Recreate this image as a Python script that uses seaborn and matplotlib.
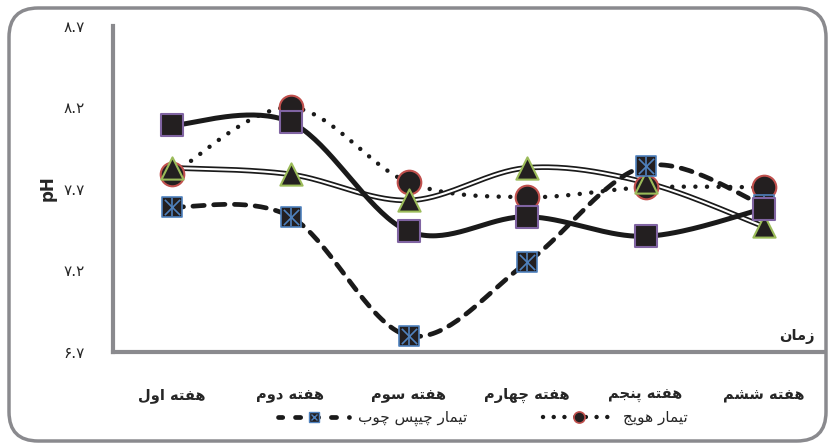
import numpy as np
import pandas as pd
import matplotlib
matplotlib.use("Agg")
import matplotlib.pyplot as plt
import seaborn as sns
from matplotlib.lines import Line2D
from matplotlib.patches import FancyBboxPatch

# ---------------- data ----------------
weeks = ["هفته اول", "هفته دوم", "هفته سوم", "هفته چهارم", "هفته پنجم", "هفته ششم"]
square_vals = [8.09, 8.11, 7.44, 7.53, 7.41, 7.58]      # solid line, purple-edged squares
carrot_vals = [7.79, 8.20, 7.74, 7.65, 7.71, 7.71]      # dotted, red-edged circles (تیمار هویج)
triangle_vals = [7.83, 7.79, 7.63, 7.83, 7.74, 7.47]    # double line, green-edged triangles
chips_vals = [7.59, 7.53, 6.80, 7.25, 7.84, 7.60]       # dashed, blue X squares (تیمار چیپس چوب)
ytick_vals = [6.7, 7.2, 7.7, 8.2, 8.7]
ytick_labels = ["۶.۷", "۷.۲", "۷.۷", "۸.۲", "۸.۷"]
legend_labels = ["تیمار چیپس چوب", "تیمار هویج"]
xlabel_text = "زمان"
ylabel_text = "pH"

# ---------------- simple Persian shaper ----------------
FORMS = {
    'ا': ('\uFE8D', '\uFE8E', None, None),
    'ب': ('\uFE8F', '\uFE90', '\uFE91', '\uFE92'),
    'پ': ('\uFB56', '\uFB57', '\uFB58', '\uFB59'),
    'ت': ('\uFE95', '\uFE96', '\uFE97', '\uFE98'),
    'ج': ('\uFE9D', '\uFE9E', '\uFE9F', '\uFEA0'),
    'چ': ('\uFB7A', '\uFB7B', '\uFB7C', '\uFB7D'),
    'د': ('\uFEA9', '\uFEAA', None, None),
    'ر': ('\uFEAD', '\uFEAE', None, None),
    'ز': ('\uFEAF', '\uFEB0', None, None),
    'س': ('\uFEB1', '\uFEB2', '\uFEB3', '\uFEB4'),
    'ش': ('\uFEB5', '\uFEB6', '\uFEB7', '\uFEB8'),
    'ف': ('\uFED1', '\uFED2', '\uFED3', '\uFED4'),
    'ل': ('\uFEDD', '\uFEDE', '\uFEDF', '\uFEE0'),
    'م': ('\uFEE1', '\uFEE2', '\uFEE3', '\uFEE4'),
    'ن': ('\uFEE5', '\uFEE6', '\uFEE7', '\uFEE8'),
    'ه': ('\uFEE9', '\uFEEA', '\uFEEB', '\uFEEC'),
    'و': ('\uFEED', '\uFEEE', None, None),
    'ی': ('\uFBFC', '\uFBFD', '\uFBFE', '\uFBFF'),
}


def shape(s):
    out = []
    for i, c in enumerate(s):
        if c not in FORMS:
            out.append(c)
            continue
        prev = s[i - 1] if i > 0 else None
        nxt = s[i + 1] if i + 1 < len(s) else None
        jp = prev in FORMS and FORMS[prev][2] is not None
        jn = nxt in FORMS and FORMS[c][2] is not None
        iso, fin, ini, med = FORMS[c]
        if jp and jn:
            out.append(med)
        elif jp:
            out.append(fin)
        elif jn:
            out.append(ini)
        else:
            out.append(iso)
    return "".join(reversed(out))


def smooth(xs, ys, n=40):
    """Excel-style smoothed curve (Bezier through the points)."""
    P = np.column_stack([xs, ys]).astype(float)
    m = len(P)
    pts = []
    t = np.linspace(0, 1, n)
    for i in range(m - 1):
        p0 = P[i]
        p3 = P[i + 1]
        pm = P[i - 1] if i > 0 else P[i]
        pp = P[i + 2] if i + 2 < m else P[i + 1]
        c1 = p0 + (p3 - pm) / 6.0
        c2 = p3 - (pp - p0) / 6.0
        seg = ((1 - t) ** 3)[:, None] * p0 + (3 * (1 - t) ** 2 * t)[:, None] * c1 \
            + (3 * (1 - t) * t ** 2)[:, None] * c2 + (t ** 3)[:, None] * p3
        pts.append(seg if i == 0 else seg[1:])
    arr = np.vstack(pts)
    return pd.DataFrame({"x": arr[:, 0], "y": arr[:, 1]})


sns.set_theme(style="white")
plt.rcParams['font.family'] = ['DejaVu Sans']

fig = plt.figure(figsize=(8.32, 4.45), dpi=100)
ax = fig.add_axes([113 / 832, 1 - 352 / 445, (823 - 113) / 832, (352 - 26) / 445])

x = np.arange(len(weeks))
FILL = "#231F20"
PURPLE = "#8064A2"
RED = "#C0504D"
GREEN = "#9BBB59"
BLUE = "#4F81BD"

# lines
d_carrot = smooth(x, carrot_vals)
d_tri = smooth(x, triangle_vals)
d_chips = smooth(x, chips_vals)
d_sq = smooth(x, square_vals)

sns.lineplot(data=d_carrot, x="x", y="y", sort=False, estimator=None, ax=ax, color="#1a1a1a", lw=3.2)
ln = ax.lines[-1]
ln.set_linestyle((0, (0.01, 2.6)))
ln.set_dash_capstyle("round")

sns.lineplot(data=d_tri, x="x", y="y", sort=False, estimator=None, ax=ax, color="#1a1a1a", lw=4.0)
sns.lineplot(data=d_tri, x="x", y="y", sort=False, estimator=None, ax=ax, color="white", lw=1.5)

sns.lineplot(data=d_chips, x="x", y="y", sort=False, estimator=None, ax=ax, color="#1a1a1a", lw=3.4)
ln = ax.lines[-1]
ln.set_linestyle((0, (2.4, 2.0)))
ln.set_dash_capstyle("round")

sns.lineplot(data=d_sq, x="x", y="y", sort=False, estimator=None, ax=ax, color="#1a1a1a", lw=3.6)

# markers
ms = lambda v: v ** 2
sns.scatterplot(x=x, y=carrot_vals, ax=ax, marker="o", s=ms(17), color=FILL, edgecolor=RED, linewidth=1.5, zorder=5)
sns.scatterplot(x=x, y=triangle_vals, ax=ax, marker="^", s=ms(16), color=FILL, edgecolor=GREEN, linewidth=1.5, zorder=6)
sns.scatterplot(x=x, y=chips_vals, ax=ax, marker="s", s=ms(14), color=FILL, edgecolor=BLUE, linewidth=1.2, zorder=7)
sns.scatterplot(x=x, y=chips_vals, ax=ax, marker="x", s=ms(11), color=BLUE, linewidth=1.2, zorder=7.1)
sns.scatterplot(x=x, y=chips_vals, ax=ax, marker="|", s=ms(13), color=BLUE, linewidth=1.2, zorder=7.2)
sns.scatterplot(x=x, y=square_vals, ax=ax, marker="s", s=ms(16.5), color=FILL, edgecolor=PURPLE, linewidth=1.5, zorder=8)

ax.set_xlim(-0.5, len(weeks) - 0.5)
ax.set_ylim(6.7, 8.7)
ax.set_xlabel("")
ax.set_ylabel("")
ax.set_xticks(x)
ax.set_xticklabels([shape(w) for w in weeks], fontsize=10.5, fontweight="bold")
ax.set_yticks(ytick_vals)
ax.set_yticklabels(ytick_labels, fontsize=11)
ax.tick_params(axis="x", length=0, pad=26)
ax.tick_params(axis="y", length=0, pad=20)
for side in ["top", "right"]:
    ax.spines[side].set_visible(False)
for side in ["left", "bottom"]:
    ax.spines[side].set_color("#8a8a8e")
    ax.spines[side].set_linewidth(3)
ax.grid(False)
ax.patch.set_alpha(0)

fig.text(48 / 832, 1 - 188 / 445, ylabel_text, rotation=90, ha="center", va="center",
         fontsize=12, fontweight="bold")
fig.text(797 / 832, 1 - 337 / 445, shape(xlabel_text), ha="center", va="center",
         fontsize=10.5, fontweight="bold")

# legend
h_chips = (
    Line2D([], [], color="#1a1a1a", lw=3.4, linestyle=(0.2, (1.1, 2.7)), dash_capstyle="round"),
    Line2D([], [], ls="none", marker="s", markersize=7, markerfacecolor=FILL, markeredgecolor=BLUE, markeredgewidth=1),
    Line2D([], [], ls="none", marker="x", markersize=5, color=BLUE, markeredgewidth=1),
)
h_carrot = (
    Line2D([], [], color="#1a1a1a", lw=3.2, linestyle=(0, (0.01, 2.4)), dash_capstyle="round"),
    Line2D([], [], ls="none", marker="o", markersize=8, markerfacecolor=FILL, markeredgecolor=RED, markeredgewidth=1.2),
)
leg = fig.legend([h_chips, h_carrot], [shape(t) for t in legend_labels], ncol=2,
                 loc="center", bbox_to_anchor=(483 / 832, 1 - 418 / 445), frameon=False,
                 fontsize=11, handlelength=4.6, columnspacing=5.0, handletextpad=0.6)

# rounded outer border
border = FancyBboxPatch((9 / 832, 4 / 445), (826 - 9) / 832, (437 - 4) / 445,
                        boxstyle="round,pad=0,rounding_size=0.035", transform=fig.transFigure,
                        fill=False, edgecolor="#8a8a8e", linewidth=2.5, mutation_aspect=832 / 445)
fig.patches.append(border)

fig.savefig("out.png", dpi=100)
